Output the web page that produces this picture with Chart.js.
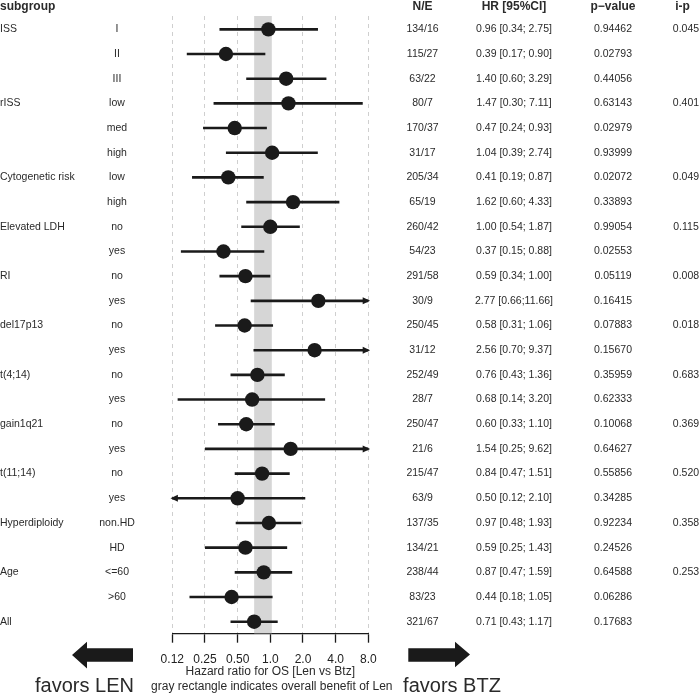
<!DOCTYPE html>
<html>
<head>
<meta charset="utf-8">
<script src="https://cdn.jsdelivr.net/npm/chart.js@4.4.1/dist/chart.umd.min.js"></script>
<style>
html,body{margin:0;padding:0;background:#fff;}
#wrap{width:699px;height:697px;position:relative;}
</style>
</head>
<body>
<div id="wrap"><canvas id="c" width="699" height="697"></canvas></div>
<script>
// ---- data ----
const subgroups = ['ISS','','','rISS','','','Cytogenetic risk','','Elevated LDH','','RI','','del17p13','','t(4;14)','','gain1q21','','t(11;14)','','Hyperdiploidy','','Age','','All'];
const levels = ['I','II','III','low','med','high','low','high','no','yes','no','yes','no','yes','no','yes','no','yes','no','yes','non.HD','HD','<=60','>60',''];
const nE = ['134/16','115/27','63/22','80/7','170/37','31/17','205/34','65/19','260/42','54/23','291/58','30/9','250/45','31/12','252/49','28/7','250/47','21/6','215/47','63/9','137/35','134/21','238/44','83/23','321/67'];
const hr = [0.96,0.39,1.40,1.47,0.47,1.04,0.41,1.62,1.00,0.37,0.59,2.77,0.58,2.56,0.76,0.68,0.60,1.54,0.84,0.50,0.97,0.59,0.87,0.44,0.71];
const lower = [0.34,0.17,0.60,0.30,0.24,0.39,0.19,0.60,0.54,0.15,0.34,0.66,0.31,0.70,0.43,0.14,0.33,0.25,0.47,0.12,0.48,0.25,0.47,0.18,0.43];
const upper = [2.75,0.90,3.29,7.11,0.93,2.74,0.87,4.33,1.87,0.88,1.00,11.66,1.06,9.37,1.36,3.20,1.10,9.62,1.51,2.10,1.93,1.43,1.59,1.05,1.17];
const pValues = ['0.94462','0.02793','0.44056','0.63143','0.02979','0.93999','0.02072','0.33893','0.99054','0.02553','0.05119','0.16415','0.07883','0.15670','0.35959','0.62333','0.10068','0.64627','0.55856','0.34285','0.92234','0.24526','0.64588','0.06286','0.17683'];
const interactionP = ['0.045','','','0.401','','','0.049','','0.115','','0.008','','0.018','','0.683','','0.369','','0.520','','0.358','','0.253','',''];
const tickValues = [0.125,0.25,0.5,1,2,4,8];
const tickLabels = ['0.12','0.25','0.50','1.0','2.0','4.0','8.0'];
const overallBand = [0.71, 1.0];
const headers = {subgroup:'subgroup', ne:'N/E', hr:'HR [95%CI]', p:'p\u2212value', ip:'i-p'};
const axisTitle = 'Hazard ratio for OS [Len vs Btz]';
const noteText = 'gray rectangle indicates overall benefit of Len';
const favorsLeft = 'favors LEN';
const favorsRight = 'favors BTZ';

const hrText = hr.map((h,i)=> h.toFixed(2)+' ['+lower[i].toFixed(2)+';'+(upper[i]>=10?'':' ')+upper[i].toFixed(2)+']');

Chart.defaults.font.family = '"Liberation Sans", Arial, Helvetica, sans-serif';
Chart.defaults.color = '#222';

const INK = '#1a1a1a';
const TXT = '#2a2a2a';
const FONT = '"Liberation Sans", Arial, Helvetica, sans-serif';

const ciDatasets = hr.map((h,i)=>({
  type:'line',
  data:[{x:lower[i],y:i},{x:upper[i],y:i}],
  borderColor:INK, borderWidth:2.6, pointRadius:0, pointHoverRadius:0, fill:false, tension:0, order:2
}));

const pointDataset = {
  type:'scatter',
  data: hr.map((h,i)=>({x:h,y:i})),
  backgroundColor:INK, borderWidth:0, pointRadius:7.2, pointHoverRadius:7.2, order:1
};

const bandPlugin = {
  id:'band',
  beforeDatasetsDraw(chart){
    const {ctx, chartArea, scales:{x}} = chart;
    const x1 = x.getPixelForValue(overallBand[0]);
    const x2 = x.getPixelForValue(overallBand[1]);
    ctx.save();
    ctx.fillStyle = '#d6d6d6';
    ctx.fillRect(x1, chartArea.top, x2 - x1 + 1.5, chartArea.bottom - chartArea.top);
    ctx.restore();
  }
};

const textPlugin = {
  id:'texts',
  afterDraw(chart){
    const {ctx, scales:{x,y}} = chart;
    ctx.save();
    ctx.fillStyle = INK;
    // arrowheads for truncated CIs
    const xmin = x.getPixelForValue(x.min), xmax = x.getPixelForValue(x.max);
    hr.forEach((h,i)=>{
      const py = y.getPixelForValue(i);
      if (upper[i] > x.max){
        ctx.beginPath();
        ctx.moveTo(xmax+1.8, py);
        ctx.lineTo(xmax-5.6, py-3.5);
        ctx.lineTo(xmax-5.6, py+3.5);
        ctx.closePath(); ctx.fill();
      }
      if (lower[i] < x.min){
        ctx.beginPath();
        ctx.moveTo(xmin-1.8, py);
        ctx.lineTo(xmin+5.6, py-3.5);
        ctx.lineTo(xmin+5.6, py+3.5);
        ctx.closePath(); ctx.fill();
      }
    });
    // headers
    ctx.fillStyle = TXT;
    ctx.textBaseline = 'middle';
    ctx.font = 'bold 12px '+FONT;
    const hy = 6.5;
    ctx.textAlign = 'left'; ctx.fillText(headers.subgroup, 0, hy);
    ctx.textAlign = 'center';
    ctx.fillText(headers.ne, 422.5, hy);
    ctx.fillText(headers.hr, 514, hy);
    ctx.fillText(headers.p, 613, hy);
    ctx.fillText(headers.ip, 682.5, hy);
    // rows
    ctx.font = '10.5px '+FONT;
    for (let i=0;i<hr.length;i++){
      const py = y.getPixelForValue(i);
      ctx.textAlign = 'left';
      if (subgroups[i]) ctx.fillText(subgroups[i], 0, py);
      ctx.textAlign = 'center';
      if (levels[i]) ctx.fillText(levels[i], 117, py);
      ctx.fillText(nE[i], 422.5, py);
      ctx.fillText(hrText[i], 514, py);
      ctx.fillText(pValues[i], 613, py);
      if (interactionP[i]) ctx.fillText(interactionP[i], 686, py);
    }
    // axis title & note
    const cx = x.getPixelForValue(1);
    ctx.font = '12px '+FONT;
    ctx.fillText(axisTitle, cx, 671.5);
    ctx.fillText(noteText, cx+1.5, 686.5);
    // big arrows
    ctx.fillStyle = INK;
    ctx.beginPath();
    ctx.moveTo(72,655); ctx.lineTo(87,641.7); ctx.lineTo(87,648.3); ctx.lineTo(133,648.3);
    ctx.lineTo(133,661.7); ctx.lineTo(87,661.7); ctx.lineTo(87,668.5); ctx.closePath(); ctx.fill();
    ctx.beginPath();
    ctx.moveTo(470,654.5); ctx.lineTo(455,641.7); ctx.lineTo(455,648.3); ctx.lineTo(408.3,648.3);
    ctx.lineTo(408.3,661.7); ctx.lineTo(455,661.7); ctx.lineTo(455,667.3); ctx.closePath(); ctx.fill();
    ctx.fillStyle = TXT;
    ctx.font = '20px '+FONT;
    ctx.textBaseline = 'alphabetic';
    ctx.textAlign = 'center';
    ctx.fillText(favorsLeft, 84.5, 692);
    ctx.fillText(favorsRight, 452, 692);
    ctx.restore();
  }
};

new Chart(document.getElementById('c'), {
  data:{ datasets:[...ciDatasets, pointDataset] },
  options:{
    responsive:false,
    animation:false,
    devicePixelRatio:1,
    events:[],
    layout:{padding:{left:172.3, right:330.7, top:16, bottom:0}},
    plugins:{legend:{display:false}, tooltip:{enabled:false}},
    scales:{
      x:{
        type:'logarithmic', position:'bottom', min:0.125, max:8,
        afterBuildTicks(scale){ scale.ticks = tickValues.map(v=>({value:v})); },
        afterFit(scale){ scale.height = 63.7; },
        ticks:{
          autoSkip:false, maxRotation:0, padding:10,
          color:'#222', font:{size:12},
          callback:(v,i)=>tickLabels[i]
        },
        grid:{
          color:(c)=> (c.tick && c.tick.value===1) ? 'rgba(0,0,0,0)' : '#cfcfcf',
          lineWidth:1, drawTicks:true, tickLength:9.4, tickColor:INK, tickWidth:1.3, tickBorderDash:[]
        },
        border:{display:true, color:INK, width:1.3, dash:[4,4]}
      },
      y:{
        type:'linear', min:-0.54, max:24.47, reverse:true, display:false
      }
    }
  },
  plugins:[bandPlugin, textPlugin]
});
</script>
</body>
</html>
